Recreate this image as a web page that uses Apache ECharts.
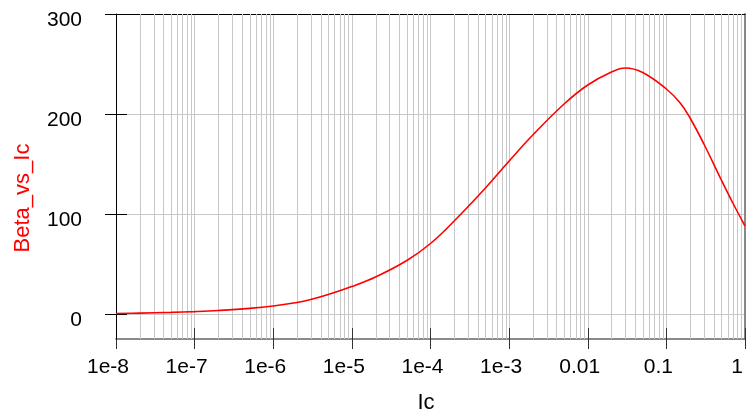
<!DOCTYPE html>
<html>
<head>
<meta charset="utf-8">
<script src="https://cdn.jsdelivr.net/npm/echarts@6/dist/echarts.min.js"></script>
<style>
html,body{margin:0;padding:0;background:#fff;}
#chart{width:747px;height:415px;}
</style>
</head>
<body>
<div id="chart"></div>
<script>
const icValues = [1e-8, 2e-8, 5e-8, 1e-7, 2e-7, 5e-7, 1e-6, 2e-6, 3e-6, 5e-6, 1e-5, 2e-5, 5e-5, 1e-4, 2e-4, 5e-4, 1e-3, 2e-3, 5e-3, 0.01, 0.02, 0.03, 0.05, 0.1, 0.15, 0.2, 0.3, 0.5, 0.7, 1];
const betaValues = [0.5, 0.9, 1.6, 2.4, 3.5, 5.6, 8, 11.5, 14.5, 19.5, 27.5, 37, 53.5, 70.5, 93, 126, 153, 179, 210, 229, 242, 246, 241.5, 225, 211, 196, 170, 134, 111, 88];
const xTickLabels = ['1e-8', '1e-7', '1e-6', '1e-5', '1e-4', '1e-3', '0.01', '0.1', '1'];
const yTickMin = 0, yTickMax = 300, yTickStep = 100;
const minorMultipliers = [2, 3, 4, 5, 6, 7, 8, 9];
const xMin = 1e-8, xMax = 1, yMin = -25, yMax = 300;

const seriesData = icValues.map((v, i) => [v, betaValues[i]]);
const minorData = [];
for (let e = -8; e < 0; e++) {
  minorMultipliers.forEach(m => minorData.push([m * Math.pow(10, e), yMin]));
}

const gridColor = '#c8c8c8';
const font = 'Liberation Sans, Arial, sans-serif';

const chart = echarts.init(document.getElementById('chart'), null, { renderer: 'canvas' });
const xBase = { type: 'log', logBase: 10, min: xMin, max: xMax, interval: 1, gridIndex: 0 };
const yBase = { type: 'value', min: yMin, max: yMax, gridIndex: 0 };
const hiddenX = gi => ({ type: 'value', gridIndex: gi, min: 0, max: 1, show: false });
const tickY = { type: 'value', min: yTickMin, max: yTickMax, interval: yTickStep };
const gridBase = { left: 116, right: 2, containLabel: false, outerBoundsMode: 'none' };

chart.setOption({
  animation: false,
  backgroundColor: '#ffffff',
  grid: [
    Object.assign({}, gridBase, { top: 14, bottom: 76 }),
    Object.assign({}, gridBase, { top: 14, bottom: 101 }),
    Object.assign({}, gridBase, { top: 20.5, bottom: 94.5 })
  ],
  xAxis: [
    Object.assign({}, xBase, {
      position: 'bottom',
      name: 'Ic', nameLocation: 'middle', nameGap: 53, nameMoveOverlap: false,
      nameTextStyle: { fontFamily: font, fontSize: 22, color: '#000', padding: [0, 9, 0, 0] },
      axisLine: { show: true, onZero: false, lineStyle: { color: '#666', width: 1.5 } },
      axisTick: { show: true, inside: false, length: 10, lineStyle: { color: '#333', width: 1 } },
      axisLabel: {
        show: true, margin: 18, fontFamily: font, fontSize: 21, color: '#000',
        padding: [0, 16, 0, 0],
        formatter: v => xTickLabels[Math.round(Math.log10(v)) + 8] || ''
      },
      splitLine: { show: true, lineStyle: { color: gridColor, width: 1 } }
    }),
    Object.assign({}, xBase, {
      position: 'bottom',
      axisLine: { show: false, onZero: false },
      axisTick: { show: true, inside: true, length: 11, lineStyle: { color: '#333', width: 1 } },
      axisLabel: { show: false },
      splitLine: { show: false }
    }),
    Object.assign({}, xBase, {
      position: 'top',
      axisLine: { show: true, onZero: false, lineStyle: { color: '#000', width: 1 } },
      axisTick: { show: false },
      axisLabel: { show: false },
      splitLine: { show: false }
    }),
    hiddenX(1),
    hiddenX(2)
  ],
  yAxis: [
    Object.assign({}, yBase, {
      position: 'left', z: 3,
      axisLine: { show: true, onZero: false, lineStyle: { color: '#000', width: 1 } },
      axisTick: { show: false },
      axisLabel: { show: false },
      splitLine: { show: false }
    }),
    Object.assign({}, yBase, {
      position: 'right',
      axisLine: { show: true, onZero: false, lineStyle: { color: '#888', width: 2 } },
      axisTick: { show: false },
      axisLabel: { show: false },
      splitLine: { show: false }
    }),
    Object.assign({}, tickY, {
      gridIndex: 1, position: 'left', offset: 11,
      axisLine: { show: false, onZero: false },
      axisTick: { show: true, inside: true, length: 22, lineStyle: { color: '#000', width: 1 } },
      axisLabel: { show: false },
      splitLine: { show: true, lineStyle: { color: gridColor, width: 1 } }
    }),
    Object.assign({}, tickY, {
      gridIndex: 2, position: 'left',
      axisLine: { show: false, onZero: false },
      axisTick: { show: false },
      axisLabel: { show: true, margin: 34, fontFamily: font, fontSize: 21, color: '#000' },
      splitLine: { show: false }
    })
  ],
  graphic: [{
    type: 'text',
    x: 23, y: 198, rotation: Math.PI / 2,
    style: {
      text: 'Beta_vs_Ic', fill: '#ff0000', fontFamily: font, fontSize: 22,
      align: 'center', verticalAlign: 'middle'
    }
  }],
  series: [
    {
      type: 'custom', xAxisIndex: 0, yAxisIndex: 0, z: 1, silent: true,
      encode: { x: 0, y: 1 },
      data: minorData,
      renderItem: function (params, api) {
        const p1 = api.coord([api.value(0), yMax]);
        const p2 = api.coord([api.value(0), yMin]);
        const x = Math.round(p1[0]) + 0.5;
        return { type: 'line', shape: { x1: x, y1: p1[1], x2: x, y2: p2[1] }, style: { stroke: gridColor, lineWidth: 1 } };
      }
    },
    {
      type: 'line', xAxisIndex: 0, yAxisIndex: 0, data: seriesData, z: 5,
      smooth: 0.4, showSymbol: false, symbol: 'none',
      lineStyle: { color: '#ff0000', width: 1.6 }
    }
  ]
});
</script>
</body>
</html>
